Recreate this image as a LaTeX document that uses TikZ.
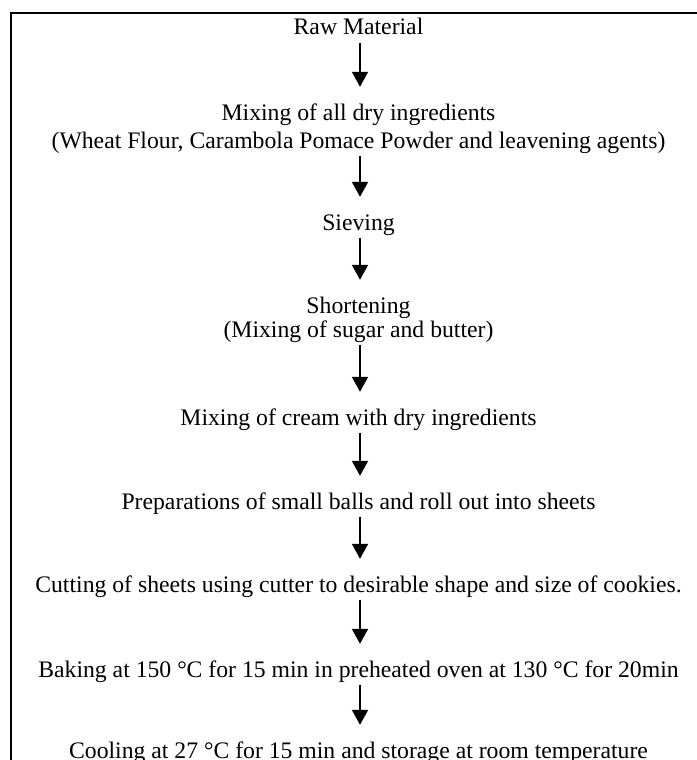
\documentclass[tikz,border=0pt]{standalone}
\usepackage{fontspec}
\setmainfont{Liberation Serif}
\usetikzlibrary{arrows.meta,calc}
\begin{document}
\begin{tikzpicture}[x=1pt,y=1pt,
  stepnode/.style={inner sep=0pt, anchor=base, text height=17pt, text depth=5.5pt,
    font=\fontsize{23.7}{28}\selectfont},
  flow/.style={line width=2pt, -{Triangle[width=16pt,length=15pt]}}]
\useasboundingbox (0,0) rectangle (696,-760);
\draw[line width=2pt] (11,-762) -- (11,-13) -- (698,-13);
\def\cx{358.5}
\node[stepnode] (raw)  at (\cx,-35)  {Raw Material};
\node[stepnode] (mix)  at (\cx,-120) {Mixing of all dry ingredients};
\node[stepnode] (mixb) at (\cx,-148) {(Wheat Flour, Carambola Pomace Powder and leavening agents)};
\node[stepnode] (sie)  at (\cx,-230) {Sieving};
\node[stepnode] (sho)  at (\cx,-313) {Shortening};
\node[stepnode] (shob) at (\cx,-337) {(Mixing of sugar and butter)};
\node[stepnode] (cre)  at (\cx,-425) {Mixing of cream with dry ingredients};
\node[stepnode] (pre)  at (\cx,-509) {Preparations of small balls and roll out into sheets};
\node[stepnode] (cut)  at (\cx,-592) {Cutting of sheets using cutter to desirable shape and size of cookies.};
\node[stepnode] (bak)  at (\cx,-677) {Baking at 150 °C for 15 min in preheated oven at 130 °C for 20min};
\node[stepnode] (coo)  at (\cx,-758) {Cooling at 27 °C for 15 min and storage at room temperature};
\foreach \a/\b in {raw/mix, mixb/sie, sie/sho, shob/cre, cre/pre, pre/cut, cut/bak, bak/coo}
  \draw[flow] ($(\a.south)+(1.5,-2)$) -- ($(\b.north)+(1.5,16)$);
\end{tikzpicture}
\end{document}
